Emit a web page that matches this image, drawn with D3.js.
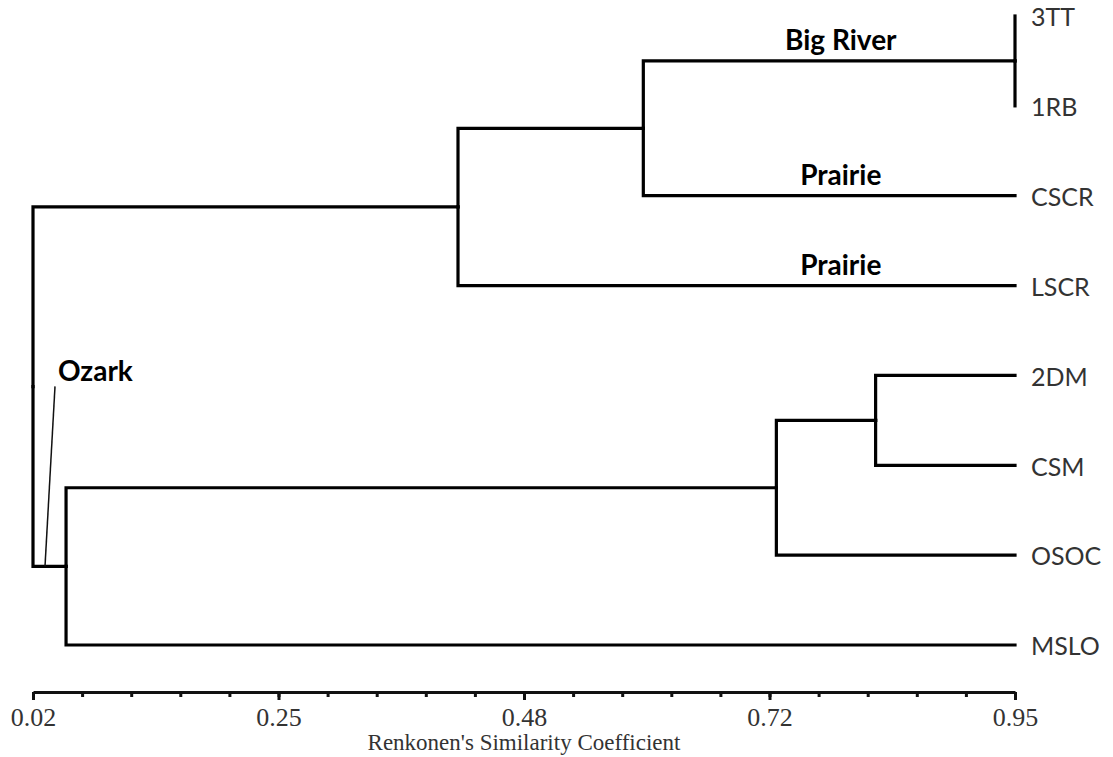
<!DOCTYPE html>
<html>
<head>
<meta charset="utf-8">
<script src="https://cdn.jsdelivr.net/npm/d3@7"></script>
<style>
  body { margin: 0; background: #fff; }
  svg { display: block; }
</style>
</head>
<body>
<div id="chart"></div>
<script>
// leaves, top to bottom
const leaves = ["3TT", "1RB", "CSCR", "LSCR", "2DM", "CSM", "OSOC", "MSLO"];

// merges: new cluster id, the two joined members, similarity at which they join
const merges = [
  { id: "m1", a: "3TT", b: "1RB", sim: 0.95 },
  { id: "m2", a: "m1", b: "CSCR", sim: 0.598 },
  { id: "m3", a: "m2", b: "LSCR", sim: 0.4225 },
  { id: "m4", a: "2DM", b: "CSM", sim: 0.818 },
  { id: "m5", a: "m4", b: "OSOC", sim: 0.724 },
  { id: "m6", a: "m5", b: "MSLO", sim: 0.0513 },
  { id: "root", a: "m3", b: "m6", sim: 0.02 }
];

// group names written above branches
const groupLabels = [
  { text: "Big River", node: "m1" },
  { text: "Prairie", node: "CSCR" },
  { text: "Prairie", node: "LSCR" }
];
const ozarkLabel = { text: "Ozark", node: "m6" };

const tickLabels = ["0.02", "0.25", "0.48", "0.72", "0.95"];
const axisTitle = "Renkonen's Similarity Coefficient";

const width = 1113, height = 757;
const simMin = 0.02, simMax = 0.95;

const svg = d3.select("#chart").append("svg")
  .attr("width", width)
  .attr("height", height);

const x = d3.scaleLinear().domain([simMin, simMax]).range([33, 1015]);
const y = d3.scalePoint().domain(leaves).range([16, 645]);

// build the tree
const nodes = new Map();
leaves.forEach(l => nodes.set(l, { id: l, sim: simMax, y: y(l) }));
merges.forEach(m => {
  const kids = [nodes.get(m.a), nodes.get(m.b)];
  nodes.set(m.id, { id: m.id, sim: m.sim, children: kids, y: d3.mean(kids, k => k.y) });
});
const root = d3.hierarchy(nodes.get("root"));

// elbow links
svg.append("g")
  .selectAll("path")
  .data(root.links())
  .join("path")
    .attr("d", l => `M${x(l.source.data.sim)},${l.source.data.y}V${l.target.data.y}H${x(l.target.data.sim)}`)
    .attr("fill", "none")
    .attr("stroke", "#000")
    .attr("stroke-width", 3.2)
    .attr("stroke-linecap", "square");

// leaf names
svg.append("g")
  .selectAll("text")
  .data(leaves)
  .join("text")
    .attr("x", x(simMax) + 16)
    .attr("y", d => y(d) + 4)
    .attr("dominant-baseline", "middle")
    .attr("font-family", "Lato, 'Open Sans', sans-serif")
    .attr("font-size", 25)
    .attr("fill", "#333")
    .text(d => d);

// group names
svg.append("g")
  .selectAll("text")
  .data(groupLabels)
  .join("text")
    .attr("x", x(0.785))
    .attr("y", d => nodes.get(d.node).y - 11)
    .attr("text-anchor", "middle")
    .attr("font-family", "Lato, 'Open Sans', sans-serif")
    .attr("font-weight", "bold")
    .attr("font-size", 28)
    .attr("fill", "#000")
    .text(d => d.text);

// Ozark label with leader line
const oz = nodes.get(ozarkLabel.node);
svg.append("line")
  .attr("x1", x(simMin) + 12).attr("y1", oz.y)
  .attr("x2", x(simMin) + 22).attr("y2", oz.y - 180)
  .attr("stroke", "#111")
  .attr("stroke-width", 1.5);
svg.append("text")
  .attr("x", x(simMin) + 25)
  .attr("y", oz.y - 185)
  .attr("font-family", "Lato, 'Open Sans', sans-serif")
  .attr("font-weight", "bold")
  .attr("font-size", 28)
  .attr("fill", "#000")
  .text(ozarkLabel.text);

// axis: evenly spaced major ticks with 4 minor ticks between
const axisY = 692;
const majorVals = tickLabels.map((t, i) => simMin + i * (simMax - simMin) / (tickLabels.length - 1));
const minorVals = d3.range((tickLabels.length - 1) * 5 + 1).map(i => simMin + i * (simMax - simMin) / ((tickLabels.length - 1) * 5));

const minorAxis = svg.append("g")
  .attr("transform", `translate(0,${axisY})`)
  .call(d3.axisBottom(x).tickValues(minorVals).tickSize(5).tickSizeOuter(0).tickFormat(""));
minorAxis.select(".domain").remove();
minorAxis.selectAll("line").attr("stroke", "#111").attr("stroke-width", 3);

const majorAxis = svg.append("g")
  .attr("transform", `translate(0,${axisY})`)
  .call(d3.axisBottom(x).tickValues(majorVals).tickSize(8).tickSizeOuter(0).tickPadding(8)
    .tickFormat((d, i) => tickLabels[i]));
majorAxis.select(".domain").attr("stroke", "#111").attr("stroke-width", 3.2);
majorAxis.selectAll("line").attr("stroke", "#111").attr("stroke-width", 3);
majorAxis.selectAll("text")
  .attr("font-family", "'Liberation Serif', 'Times New Roman', serif")
  .attr("font-size", 26)
  .attr("fill", "#333");

svg.append("text")
  .attr("x", (x(simMin) + x(simMax)) / 2)
  .attr("y", 750)
  .attr("text-anchor", "middle")
  .attr("font-family", "'Liberation Serif', 'Times New Roman', serif")
  .attr("font-size", 23)
  .attr("fill", "#333")
  .text(axisTitle);
</script>
</body>
</html>
